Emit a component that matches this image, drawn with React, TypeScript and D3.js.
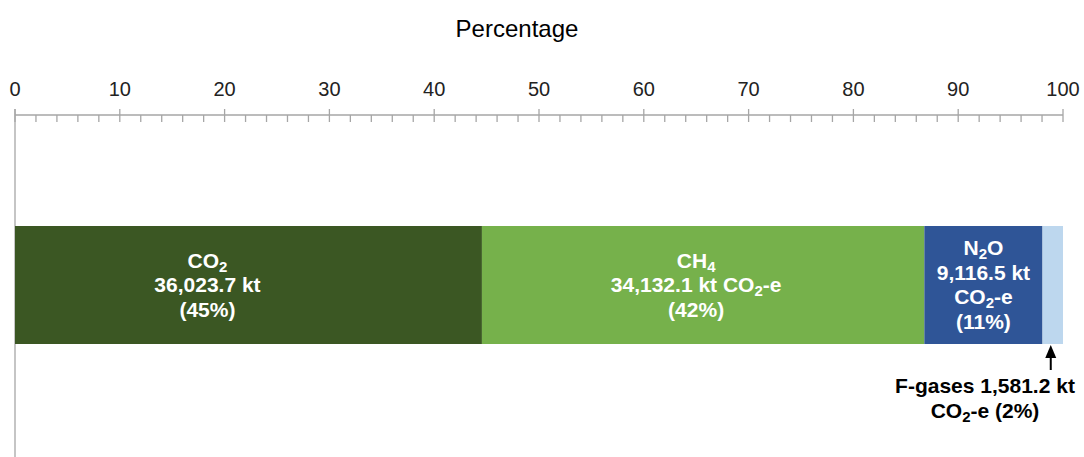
import React from "react";
import * as d3 from "d3";

const gases = ["CO_2", "CH_4", "N_2O", "F-gases"];
const values = [36023.7, 34132.1, 9116.5, 1581.2];
const units = ["kt", "kt CO_2-e", "kt CO_2-e", "kt CO_2-e"];
const colors = ["#3b5723", "#76b14b", "#2f5597", "#bdd7ee"];
const tickValues = [0, 10, 20, 30, 40, 50, 60, 70, 80, 90, 100];
const axisTitle = "Percentage";

const W = 1084;
const H = 457;
const FONT = "'Liberation Sans', Arial, Helvetica, sans-serif";

function Rich({ s }: { s: string }) {
  const parts = s.split(/_(\d)/);
  const out: React.ReactNode[] = [];
  parts.forEach((p, i) => {
    if (i % 2 === 1) {
      out.push(
        <tspan key={i} dy={4} fontSize={15}>
          {p}
        </tspan>
      );
    } else if (p.length) {
      out.push(
        <tspan key={i} dy={i > 0 ? -4 : 0}>
          {p}
        </tspan>
      );
    }
  });
  return <>{out}</>;
}

export default function App() {
  const x = d3.scaleLinear().domain([0, 100]).range([15, 1063]);
  const total = d3.sum(values);
  const pct = values.map((v) => (v / total) * 100);
  const starts = pct.map((_, i) => d3.sum(pct.slice(0, i)));
  const fmt = d3.format(",.1f");
  const barTop = 226;
  const barBottom = 344;
  const axisY = 115;
  const minor = d3.range(0, 101, 2);

  const labelLines: string[][] = [
    [gases[0], `${fmt(values[0])} ${units[0]}`, `(${Math.round(pct[0])}%)`],
    [gases[1], `${fmt(values[1])} ${units[1]}`, `(${Math.round(pct[1])}%)`],
    [gases[2], `${fmt(values[2])} kt`, "CO_2-e", `(${Math.round(pct[2])}%)`],
  ];
  const labelDx = [-41, -7, 0];

  const fIdx = 3;
  const fCenter = x(starts[fIdx] + pct[fIdx] / 2) - 2;

  return (
    <svg
      width={W}
      height={H}
      style={{ position: "absolute", left: 0, top: 0, background: "#fff" }}
      fontFamily={FONT}
    >
      <text x={517} y={37} fontSize={24} textAnchor="middle" fill="#000">
        {axisTitle}
      </text>
      {/* axis */}
      <line x1={x(0)} x2={x(100)} y1={axisY} y2={axisY} stroke="#a6a6a6" strokeWidth={1.3} />
      <line x1={x(0)} x2={x(0)} y1={axisY - 6} y2={H} stroke="#a6a6a6" strokeWidth={1.3} />
      {minor.map((m) => (
        <line
          key={"m" + m}
          x1={x(m)}
          x2={x(m)}
          y1={m % 10 === 0 ? axisY - 6 : axisY}
          y2={axisY + 7}
          stroke="#a6a6a6"
          strokeWidth={1.3}
        />
      ))}
      {tickValues.map((t) => (
        <text
          key={"t" + t}
          x={x(t)}
          y={96}
          fontSize={20}
          textAnchor="middle"
          fill="#222"
        >
          {t}
        </text>
      ))}
      {/* bars */}
      {pct.map((p, i) => (
        <rect
          key={"b" + i}
          x={x(starts[i])}
          y={barTop}
          width={x(starts[i] + p) - x(starts[i])}
          height={barBottom - barTop}
          fill={colors[i]}
        />
      ))}
      {/* labels */}
      {labelLines.map((lines, i) => {
        const cx = x(starts[i] + pct[i] / 2) + labelDx[i];
        const n = lines.length;
        const lh = 24.5;
        const mid = (barTop + barBottom) / 2 + 7;
        return lines.map((ln, j) => (
          <text
            key={`l${i}-${j}`}
            x={cx}
            y={mid + (j - (n - 1) / 2) * lh}
            fontSize={21}
            fontWeight="bold"
            textAnchor="middle"
            fill="#fff"
          >
            <Rich s={ln} />
          </text>
        ));
      })}
      {/* F-gases annotation */}
      <line x1={fCenter} x2={fCenter} y1={370} y2={352} stroke="#000" strokeWidth={2} />
      <path
        d={`M${fCenter},${barBottom + 1} L${fCenter - 5.5},${barBottom + 14} L${fCenter + 5.5},${barBottom + 14} Z`}
        fill="#000"
      />
      <text x={985} y={393} fontSize={21} fontWeight="bold" textAnchor="middle" fill="#000">
        <Rich s={`${gases[3]} ${fmt(values[3])} kt`} />
      </text>
      <text x={985} y={418} fontSize={21} fontWeight="bold" textAnchor="middle" fill="#000">
        <Rich s={`CO_2-e (${Math.round(pct[3])}%)`} />
      </text>
    </svg>
  );
}
